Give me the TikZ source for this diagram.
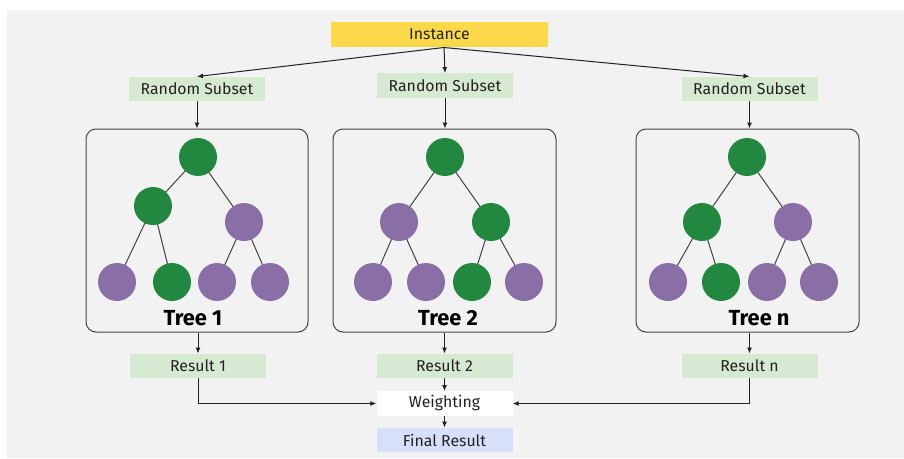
\documentclass[tikz,border=0pt]{standalone}
\usepackage{fontspec}
\setmainfont{Fira Sans}
\usetikzlibrary{arrows.meta}
\definecolor{panel}{HTML}{F2F2F2}
\definecolor{instfill}{HTML}{FBD949}
\definecolor{subfill}{HTML}{D6EAD2}
\definecolor{finalfill}{HTML}{D6E0F8}
\definecolor{leafgreen}{HTML}{22873F}
\definecolor{leafpurple}{HTML}{8A6FA7}
\definecolor{ink}{HTML}{222222}
\tikzset{
  x=1pt, y=-1pt,
  lbl/.style={minimum width=136pt, minimum height=24.5pt, inner sep=0pt, font=\fontsize{15.8}{17}\selectfont, text=ink},
  subset/.style={lbl, fill=subfill},
  result/.style={lbl, fill=subfill},
  treebox/.style={draw=ink!85, line width=1pt, rounded corners=10pt, fill=panel},
  gnode/.style={circle, fill=leafgreen, minimum size=38pt, inner sep=0pt},
  pnode/.style={circle, fill=leafpurple, minimum size=38pt, inner sep=0pt},
  branch/.style={draw=ink!85, line width=1pt},
  flow/.style={draw=ink, line width=1pt, -{Latex[length=6pt,width=5pt]}},
  treetitle/.style={font=\fontsize{21.8}{23}\selectfont\bfseries, text=black},
}
\begin{document}
\begin{tikzpicture}
\useasboundingbox (0,0) rectangle (904,458);
\fill[white] (0,0) rectangle (904,458);
\fill[panel] (7,10) rectangle (904,458);

% source instance and the three random subsets
\node[lbl, fill=instfill, minimum width=217pt, minimum height=25pt] (inst) at (439.5,34.5) {Instance};
\node[subset] (s1) at (197,89) {Random Subset};
\node[subset] (s2) at (445,85.5) {Random Subset};
\node[subset] (s3) at (749.5,89) {Random Subset};
\coordinate (ib) at (444,47.5);
\draw[flow] (ib) -- (s1.north);
\draw[flow] (ib) -- (s2.north);
\draw[flow] (ib) -- (s3.north);

% tree frames
\node[treebox, minimum width=222pt, minimum height=203pt, inner sep=0pt] (t1) at (197,230.5) {};
\node[treebox, minimum width=223pt, minimum height=203pt, inner sep=0pt] (t2) at (444.5,230.5) {};
\node[treebox, minimum width=223pt, minimum height=203pt, inner sep=0pt] (t3) at (747.5,230.5) {};
\draw[flow] (s1.south) -- (s1.south |- t1.north);
\draw[flow] (s2.south) -- (s2.south |- t2.north);
\draw[flow] (s3.south) -- (s3.south |- t3.north);

% tree 1
\coordinate (a0) at (198,157);
\coordinate (a1) at (153,206);
\coordinate (a2) at (244,222);
\coordinate (a3) at (117,282);
\coordinate (a4) at (172,282);
\coordinate (a5) at (217,282);
\coordinate (a6) at (270,282);
\draw[branch] (a0) -- (a1) (a0) -- (a2) (a1) -- (a3) (a1) -- (a4) (a2) -- (a5) (a2) -- (a6);
\node[gnode] (n10) at (a0) {};
\node[gnode] (n11) at (a1) {};
\node[pnode] (n12) at (a2) {};
\node[pnode] (n13) at (a3) {};
\node[gnode] (n14) at (a4) {};
\node[pnode] (n15) at (a5) {};
\node[pnode] (n16) at (a6) {};
\node[treetitle] (tt1) at (193,318) {Tree 1};

% tree 2
\coordinate (b0) at (445,157);
\coordinate (b1) at (399,222);
\coordinate (b2) at (491,222);
\coordinate (b3) at (373,282);
\coordinate (b4) at (426,282);
\coordinate (b5) at (472,282);
\coordinate (b6) at (524,282);
\draw[branch] (b0) -- (b1) (b0) -- (b2) (b1) -- (b3) (b1) -- (b4) (b2) -- (b5) (b2) -- (b6);
\node[gnode] (n20) at (b0) {};
\node[pnode] (n21) at (b1) {};
\node[gnode] (n22) at (b2) {};
\node[pnode] (n23) at (b3) {};
\node[pnode] (n24) at (b4) {};
\node[gnode] (n25) at (b5) {};
\node[pnode] (n26) at (b6) {};
\node[treetitle] (tt2) at (448,318) {Tree 2};

% tree n
\coordinate (c0) at (747,157);
\coordinate (c1) at (702,222);
\coordinate (c2) at (793,222);
\coordinate (c3) at (668,282);
\coordinate (c4) at (721,282);
\coordinate (c5) at (767,282);
\coordinate (c6) at (819,282);
\draw[branch] (c0) -- (c1) (c0) -- (c2) (c1) -- (c3) (c1) -- (c4) (c2) -- (c5) (c2) -- (c6);
\node[gnode] (n30) at (c0) {};
\node[gnode] (n31) at (c1) {};
\node[pnode] (n32) at (c2) {};
\node[pnode] (n33) at (c3) {};
\node[gnode] (n34) at (c4) {};
\node[pnode] (n35) at (c5) {};
\node[pnode] (n36) at (c6) {};
\node[treetitle] (tt3) at (759,318) {Tree n};

% results and aggregation
\node[result] (r1) at (198,366) {Result 1};
\node[result] (r2) at (444.5,366) {Result 2};
\node[result] (r3) at (749.5,366) {Result n};
\node[lbl, fill=white] (w) at (444.5,403.5) {Weighting};
\node[lbl, fill=finalfill] (f) at (444.5,440) {Final Result};

\draw[flow] (r1.north |- t1.south) -- (r1.north);
\draw[flow] (r2.north |- t2.south) -- (r2.north);
\draw[flow] (r3.north |- t3.south) -- (r3.north);
\draw[flow] (r2.south) -- (w.north);
\draw[flow] (w.south) -- (f.north);
\draw[flow] (r1.south) |- (w.west);
\draw[flow] (r3.south) |- (w.east);
\end{tikzpicture}
\end{document}
